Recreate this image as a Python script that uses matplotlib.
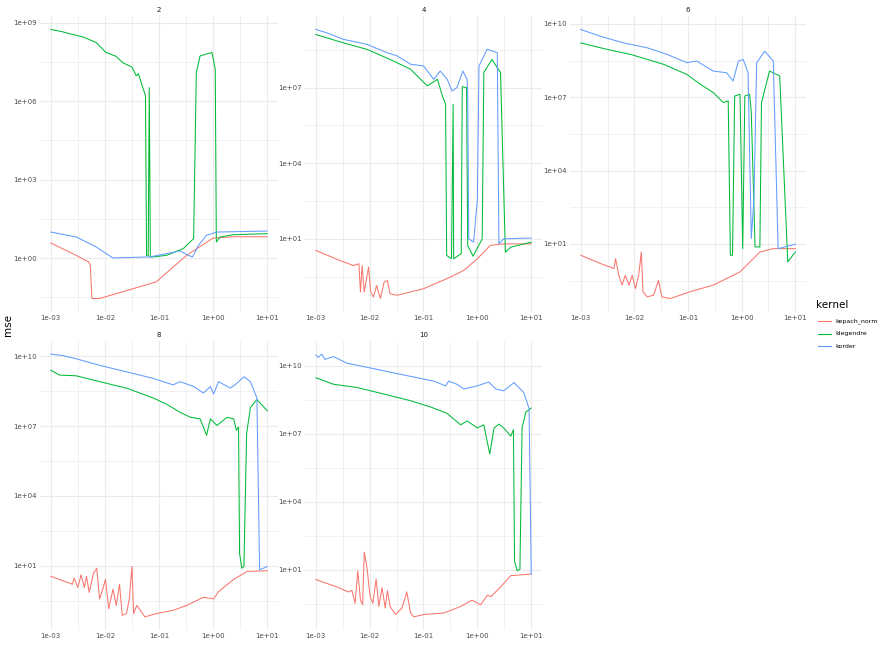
import numpy as np
import matplotlib
matplotlib.use("Agg")
import matplotlib.pyplot as plt
from matplotlib.ticker import FixedLocator, FuncFormatter

# facets (kernel order), values as log10(x), log10(mse)
facets = ["2", "4", "6", "8", "10"]
kernels = ["kepach_norm", "klegendre", "korder"]
colors = ["#F8766D", "#00BA38", "#619CFF"]

# ---- facet 2
f2_red_lx = [-3, -2.6, -2.3, -2.27, -2.24, -2.1, -1.67, -1.05, -0.49, 0.0, 0.38, 1.0]
f2_red_ly = [0.58, 0.18, -0.14, -0.27, -1.54, -1.54, -1.28, -0.9, 0.11, 0.77, 0.82, 0.82]
f2_green_lx = [-3, -2.8, -2.6, -2.4, -2.16, -1.98, -1.8, -1.67, -1.5, -1.42, -1.38, -1.33, -1.25,
               -1.23, -1.2, -1.18, -1.16, -1.11, -0.86, -0.55, -0.36, -0.31, -0.24, -0.02,
               0.04, 0.06, 0.13, 0.38, 1.0]
f2_green_ly = [8.74, 8.66, 8.55, 8.45, 8.24, 7.86, 7.72, 7.47, 7.3, 6.97, 7.05, 6.71, 6.21,
               0.1, 0.1, 6.52, 0.05, 0.05, 0.11, 0.37, 0.75, 7.09, 7.73, 7.86,
               7.22, 0.62, 0.81, 0.9, 0.94]
f2_blue_lx = [-3, -2.53, -2.16, -1.98, -1.85, -1.17, -0.61, -0.49, -0.38, -0.27, -0.12, 0.07, 1.0]
f2_blue_ly = [1.0, 0.81, 0.43, 0.18, 0.01, 0.05, 0.28, 0.14, 0.05, 0.49, 0.88, 1.0, 1.04]

# ---- facet 4
f4_red_lx = [-3, -2.55, -2.3, -2.2, -2.17, -2.14, -2.1, -2.02, -1.98, -1.93, -1.87, -1.8,
             -1.73, -1.67, -1.62, -1.49, -1.0, -0.5, -0.25, 0.0, 0.24, 0.49, 1.0]
f4_red_ly = [0.54, 0.14, -0.06, 0.01, -1.11, -0.06, -1.11, -0.12, -1.11, -1.31, -0.85, -1.37,
             -0.71, -0.65, -1.18, -1.24, -0.98, -0.52, -0.25, 0.21, 0.74, 0.8, 0.8]
f4_green_lx = [-3, -2.49, -2.05, -1.62, -1.24, -0.93, -0.74, -0.65, -0.59, -0.57, -0.48, -0.45,
               -0.44, -0.3, -0.28, -0.2, -0.18, -0.08, 0.09, 0.12, 0.27, 0.43, 0.52, 0.62, 1.0]
f4_green_ly = [9.11, 8.78, 8.52, 8.12, 7.73, 7.07, 7.33, 6.67, 6.34, 0.34, 0.21, 6.34,
               0.21, 0.41, 7.04, 7.0, 0.74, 0.31, 1.0, 7.6, 8.12, 7.6, 0.47, 0.67, 0.87]
f4_blue_lx = [-3, -2.8, -2.49, -2.05, -1.68, -1.49, -1.24, -1.0, -0.81, -0.69, -0.56, -0.47,
              -0.38, -0.27, -0.19, -0.18, -0.16, -0.07, 0.0, 0.03, 0.18, 0.37, 0.4, 0.49, 1.0]
f4_blue_ly = [9.31, 9.18, 8.92, 8.72, 8.39, 8.26, 7.93, 7.86, 7.33, 7.66, 7.33, 6.87,
              7.0, 7.66, 7.33, 6.8, 1.0, 0.87, 2.58, 7.86, 8.52, 8.39, 0.8, 1.0, 1.03]

# ---- facet 6
f6_red_lx = [-3, -2.63, -2.38, -2.35, -2.29, -2.23, -2.17, -2.1, -2.04, -1.98, -1.92, -1.87,
             -1.84, -1.76, -1.64, -1.55, -1.49, -1.33, -0.96, -0.53, -0.03, 0.34, 0.59, 1.0]
f6_red_ly = [0.54, 0.2, 0.0, 0.4, -0.28, -0.68, -0.28, -0.68, -0.28, -0.82, -0.28, 0.67,
             -0.95, -1.16, -1.09, -0.48, -1.16, -1.23, -0.95, -0.68, -0.14, 0.67, 0.81, 0.81]
f6_green_lx = [-3, -2.5, -2.07, -1.45, -1.02, -0.77, -0.53, -0.34, -0.25, -0.21, -0.17, -0.13,
               -0.03, 0.02, 0.06, 0.15, 0.18, 0.25, 0.34, 0.37, 0.52, 0.71, 0.86, 1.0]
f6_green_ly = [9.22, 8.95, 8.75, 8.34, 7.93, 7.53, 7.19, 6.78, 6.85, 0.54, 0.54, 7.05,
               7.12, 0.81, 7.05, 7.12, 6.37, 0.88, 0.88, 6.78, 8.07, 7.87, 0.27, 0.67]
f6_blue_lx = [-3, -2.63, -2.2, -1.76, -1.39, -1.02, -0.84, -0.53, -0.28, -0.16, -0.06, 0.03,
              0.12, 0.18, 0.23, 0.28, 0.43, 0.59, 0.68, 1.0]
f6_blue_ly = [9.77, 9.49, 9.22, 9.02, 8.75, 8.41, 8.48, 8.07, 8.0, 7.66, 8.48, 8.54,
              8.0, 1.22, 2.85, 8.41, 8.88, 8.48, 0.81, 0.99]

# ---- facet 8
f8_red_lx = [-3, -2.6, -2.57, -2.5, -2.44, -2.38, -2.34, -2.29, -2.21, -2.15, -2.1, -2.04,
             -1.99, -1.93, -1.85, -1.79, -1.73, -1.68, -1.6, -1.55, -1.5, -1.47, -1.41,
             -1.26, -1.05, -0.74, -0.49, -0.18, 0.01, 0.1, 0.38, 0.63, 1.0]
f8_red_ly = [0.55, 0.21, 0.48, 0.07, 0.62, 0.07, 0.55, -0.14, 0.69, 0.9, -0.42, 0.0,
             0.42, -0.84, 0.0, -0.7, 0.21, -1.12, -1.05, -0.42, 0.97, -1.05, -0.7,
             -1.19, -1.05, -0.91, -0.7, -0.35, -0.42, -0.11, 0.42, 0.76, 0.79]
f8_green_lx = [-3, -2.84, -2.53, -2.1, -1.6, -1.11, -0.86, -0.61, -0.42, -0.24, -0.12, -0.05,
               0.07, 0.26, 0.38, 0.43, 0.47, 0.49, 0.53, 0.57, 0.62, 0.69, 0.81, 1.0]
f8_green_ly = [9.4, 9.19, 9.16, 8.91, 8.63, 8.21, 7.94, 7.59, 7.38, 7.31, 6.61, 7.31,
               7.03, 7.38, 7.31, 6.82, 6.96, 1.53, 0.9, 0.97, 6.68, 7.8, 8.14, 7.66]
f8_blue_lx = [-3, -2.78, -2.53, -2.1, -1.6, -1.11, -0.74, -0.61, -0.36, -0.18, -0.05, 0.01,
              0.1, 0.32, 0.44, 0.57, 0.69, 0.81, 0.86, 1.0]
f8_blue_ly = [10.09, 10.03, 9.89, 9.61, 9.33, 9.05, 8.77, 8.91, 8.7, 8.42, 8.7, 8.38,
              8.91, 8.63, 8.84, 9.12, 8.91, 8.21, 0.83, 0.97]

# ---- facet 10
f10_red_lx = [-3, -2.61, -2.39, -2.33, -2.27, -2.22, -2.17, -2.13, -2.1, -2.05, -1.99, -1.94,
              -1.88, -1.83, -1.77, -1.71, -1.67, -1.62, -1.52, -1.4, -1.31, -1.24, -1.18,
              -1.0, -0.62, -0.31, -0.1, 0.06, 0.19, 0.25, 0.43, 0.62, 1.0]
f10_red_ly = [0.56, 0.23, 0.01, 0.08, -0.49, 0.94, -0.35, -0.56, 1.77, 1.09, -0.2, -0.49,
              0.58, -0.63, 0.2, -0.7, 0.06, -0.63, -0.99, -0.7, 0.01, -0.92, -1.09,
              -0.99, -0.92, -0.63, -0.35, -0.56, -0.13, -0.2, 0.23, 0.73, 0.8]
f10_green_lx = [-3, -2.67, -2.24, -1.74, -1.25, -0.87, -0.56, -0.31, -0.19, 0.0, 0.12, 0.23,
                0.31, 0.4, 0.49, 0.62, 0.67, 0.69, 0.74, 0.79, 0.83, 0.9, 1.0]
f10_green_ly = [9.47, 9.18, 9.04, 8.75, 8.46, 8.18, 7.89, 7.39, 7.56, 7.25, 7.39, 6.1,
                7.25, 7.42, 7.25, 6.89, 7.17, 1.37, 0.94, 1.01, 7.25, 7.96, 8.13]
f10_blue_lx = [-3, -2.95, -2.89, -2.83, -2.67, -2.42, -1.99, -1.55, -1.12, -0.81, -0.59, -0.53,
               -0.38, -0.25, 0.0, 0.21, 0.34, 0.49, 0.68, 0.86, 0.96, 1.0]
f10_blue_ly = [10.47, 10.37, 10.51, 10.28, 10.4, 10.11, 9.9, 9.68, 9.47, 9.32, 9.11, 9.32,
               9.18, 8.97, 9.11, 9.28, 8.97, 8.89, 9.25, 8.82, 8.11, 0.8]

series = {
    "2": [(f2_red_lx, f2_red_ly), (f2_green_lx, f2_green_ly), (f2_blue_lx, f2_blue_ly)],
    "4": [(f4_red_lx, f4_red_ly), (f4_green_lx, f4_green_ly), (f4_blue_lx, f4_blue_ly)],
    "6": [(f6_red_lx, f6_red_ly), (f6_green_lx, f6_green_ly), (f6_blue_lx, f6_blue_ly)],
    "8": [(f8_red_lx, f8_red_ly), (f8_green_lx, f8_green_ly), (f8_blue_lx, f8_blue_ly)],
    "10": [(f10_red_lx, f10_red_ly), (f10_green_lx, f10_green_ly), (f10_blue_lx, f10_blue_ly)],
}
x_breaks = [1e-3, 1e-2, 1e-1, 1e0, 1e1]

W, H = 878, 649
fig = plt.figure(figsize=(W / 100, H / 100), dpi=100)

# panel boxes in pixels: left, top, right, bottom
boxes = [(40, 16, 278, 312), (305, 16, 542, 312), (570, 16, 806, 312),
         (40, 341, 278, 630), (305, 341, 542, 630)]


def sci(v, pos=None):
    return "1e%+03d" % int(round(np.log10(v)))


for name, (l, t, r, b) in zip(facets, boxes):
    ax = fig.add_axes([l / W, 1 - b / H, (r - l) / W, (b - t) / H])
    ax.set_xscale("log")
    ax.set_yscale("log")
    allY = []
    for (lx, ly), c in zip(series[name], colors):
        ax.plot(10.0 ** np.array(lx), 10.0 ** np.array(ly), color=c, lw=0.75)
        allY += ly
    lo, hi = min(allY), max(allY)
    pad = (hi - lo) * 0.05
    lo, hi = lo - pad, hi + pad
    ax.set_ylim(10 ** lo, 10 ** hi)
    ax.set_xlim(10 ** -3.2, 10 ** 1.2)
    first = 0 if name == "2" else 1
    major_e = [e for e in range(first - 3, 14, 3) if lo <= e <= hi]
    minor_e = [e + 1.5 for e in range(first - 3, 14, 3) if lo <= e + 1.5 <= hi]
    ax.yaxis.set_major_locator(FixedLocator([10.0 ** e for e in major_e]))
    ax.yaxis.set_minor_locator(FixedLocator([10.0 ** e for e in minor_e]))
    ax.xaxis.set_major_locator(FixedLocator(x_breaks))
    ax.xaxis.set_minor_locator(FixedLocator([v * 10 ** 0.5 for v in x_breaks[:-1]]))
    ax.xaxis.set_major_formatter(FuncFormatter(sci))
    ax.yaxis.set_major_formatter(FuncFormatter(sci))
    ax.xaxis.set_minor_formatter(FuncFormatter(lambda v, p: ""))
    ax.yaxis.set_minor_formatter(FuncFormatter(lambda v, p: ""))
    ax.grid(which="major", color="#EBEBEB", lw=0.8)
    ax.grid(which="minor", color="#EBEBEB", lw=0.5)
    ax.set_axisbelow(True)
    for s in ax.spines.values():
        s.set_visible(False)
    ax.tick_params(which="both", length=0, labelsize=5, labelcolor="#4D4D4D", pad=2.5)
    ax.set_title(name, fontsize=5, color="#1A1A1A", pad=3)

fig.text(8 / W, 1 - 325 / H, "mse", rotation=90, ha="center", va="center", fontsize=7.5)

# legend
fig.text(816 / W, 1 - 305 / H, "kernel", ha="left", va="center", fontsize=7.5)
for i, (k, c) in enumerate(zip(kernels, colors)):
    yy = 1 - (321 + 12.5 * i) / H
    fig.add_artist(plt.Line2D([818 / W, 831 / W], [yy, yy], color=c, lw=0.8))
    fig.text(835 / W, yy, k, ha="left", va="center", fontsize=4.5)

fig.savefig("out.png", dpi=100)
